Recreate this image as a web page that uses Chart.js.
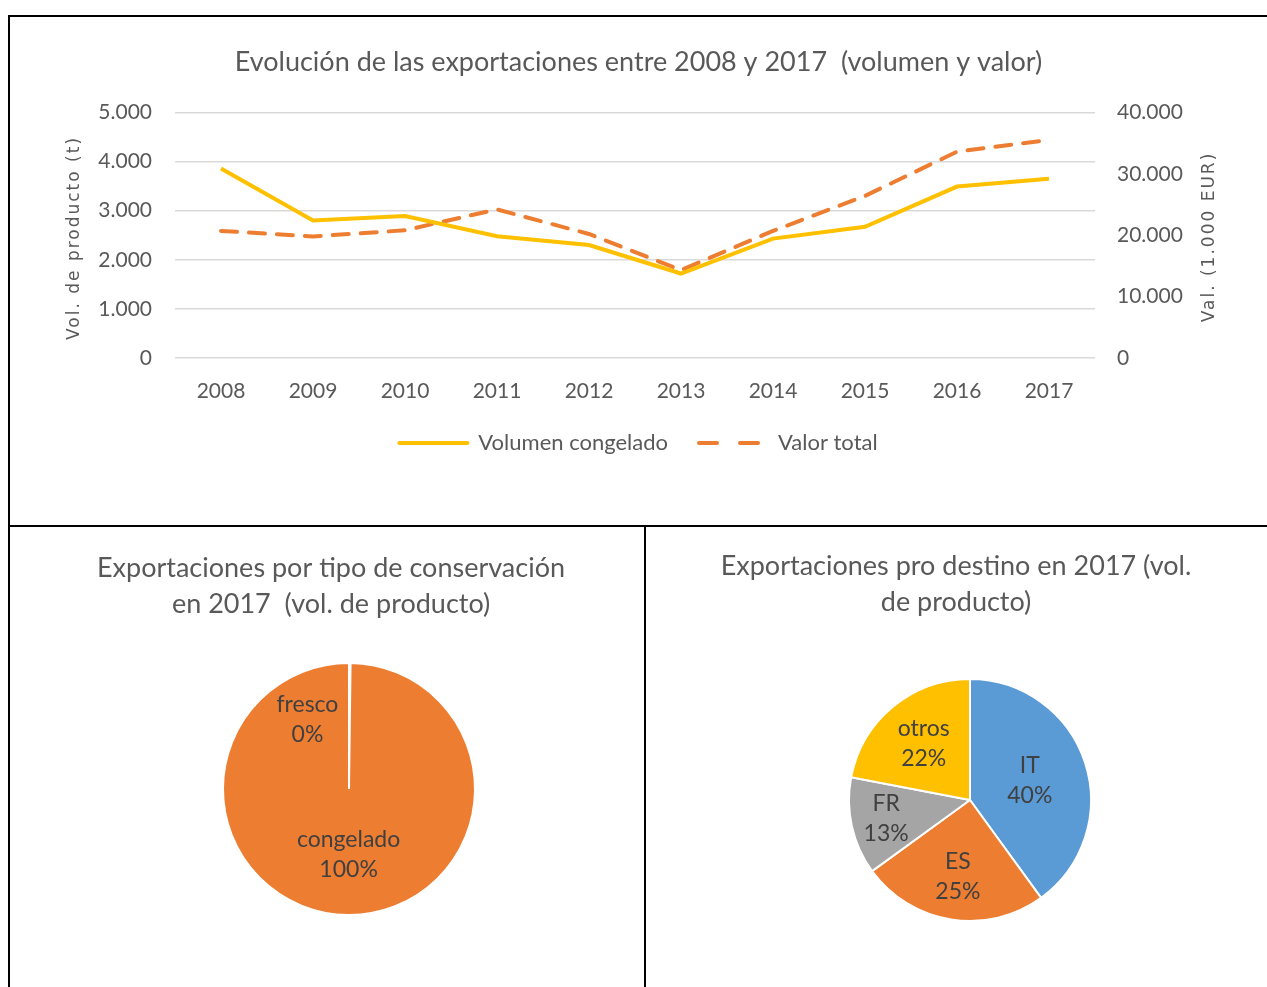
<!DOCTYPE html>
<html>
<head>
<meta charset="utf-8">
<script src="https://cdn.jsdelivr.net/npm/chart.js@4.4.1/dist/chart.umd.min.js"></script>
<style>
  html, body { margin: 0; padding: 0; background: #fff; overflow: hidden; }
  .box { position: absolute; border: 2px solid #000; box-sizing: border-box; }
  #boxTop { left: 8px; top: 15px; width: 1280px; height: 512px; }
  #boxLeft { left: 8px; top: 525px; width: 638px; height: 490px; }
  #boxRight { left: 644px; top: 525px; width: 650px; height: 490px; }
  canvas { position: absolute; }
</style>
</head>
<body>
<div class="box" id="boxTop"></div>
<div class="box" id="boxLeft"></div>
<div class="box" id="boxRight"></div>
<canvas id="lineChart" width="1257" height="506" style="left:10px;top:17px;"></canvas>
<canvas id="pieTipo" width="632" height="460" style="left:10px;top:527px;"></canvas>
<canvas id="pieDestino" width="621" height="460" style="left:646px;top:527px;"></canvas>
<script>
// years and series (volume in t, value in 1.000 EUR)
const years = ['2008', '2009', '2010', '2011', '2012', '2013', '2014', '2015', '2016', '2017'];
const volumenCongelado = [3860, 2800, 2890, 2480, 2300, 1720, 2430, 2670, 3490, 3650];
const valorTotal = [20700, 19800, 20800, 24200, 20200, 14300, 20700, 26400, 33600, 35500];

// pies (2017)
const tipoLabels = ['fresco', 'congelado'];
const tipoValues = [0.2, 99.8];
const destinoLabels = ['IT', 'ES', 'FR', 'otros'];
const destinoValues = [40, 25, 13, 22];

const grey = '#595959';
const excelFont = 'Lato, "Liberation Sans", sans-serif';
const thousands = v => v.toString().replace(/\B(?=(\d{3})+(?!\d))/g, '.');

// free text drawn on the canvas (titles, rotated axis titles)
const freeText = {
    id: 'freeText',
    afterDraw(chart, args, opts) {
        const ctx = chart.ctx;
        opts.items.forEach(item => {
            ctx.save();
            ctx.font = item.font;
            ctx.fillStyle = item.color || grey;
            ctx.textAlign = 'center';
            ctx.textBaseline = 'middle';
            if (item.spacing) ctx.letterSpacing = item.spacing;
            ctx.translate(item.x, item.y);
            if (item.rot) ctx.rotate(item.rot);
            ctx.fillText(item.text, 0, 0);
            ctx.restore();
        });
    }
};

// "label / xx%" inside pie slices
const pieLabels = {
    id: 'pieLabels',
    afterDatasetsDraw(chart, args, opts) {
        const ctx = chart.ctx;
        const meta = chart.getDatasetMeta(0);
        const data = chart.data.datasets[0].data;
        const total = data.reduce((a, b) => a + b, 0);
        ctx.save();
        ctx.font = opts.font;
        ctx.fillStyle = '#404040';
        ctx.textAlign = 'center';
        ctx.textBaseline = 'middle';
        meta.data.forEach((arc, i) => {
            let angle = (arc.startAngle + arc.endAngle) / 2;
            if (opts.angles && opts.angles[i] != null) angle = opts.angles[i] * Math.PI / 180 - Math.PI / 2;
            const r = arc.outerRadius * opts.radius[i];
            const x = arc.x + Math.cos(angle) * r;
            const y = arc.y + Math.sin(angle) * r;
            ctx.fillText(chart.data.labels[i], x, y - opts.gap / 2);
            ctx.fillText(Math.round(data[i] / total * 100) + '%', x, y + opts.gap / 2);
        });
        ctx.restore();
    }
};

const legendDash = [[], [18, 23]];

new Chart(document.getElementById('lineChart'), {
    type: 'line',
    data: {
        labels: years,
        datasets: [{
            label: 'Volumen congelado',
            data: volumenCongelado,
            borderColor: '#FFC000',
            backgroundColor: '#FFC000',
            borderWidth: 4,
            pointRadius: 0,
            tension: 0,
            yAxisID: 'y'
        }, {
            label: 'Valor total',
            data: valorTotal,
            borderColor: '#ED7D31',
            backgroundColor: '#ED7D31',
            borderWidth: 4,
            borderDash: [16, 12],
            borderCapStyle: 'round',
            pointRadius: 0,
            tension: 0,
            yAxisID: 'y2'
        }]
    },
    options: {
        responsive: false,
        animation: false,
        layout: { padding: { left: 0, right: 0, top: 0, bottom: 59 } },
        plugins: {
            title: {
                display: true,
                text: 'Evolución de las exportaciones entre 2008 y 2017  (volumen y valor)',
                color: grey,
                font: { family: excelFont, size: 27, weight: 'normal' },
                padding: { top: 29, bottom: 34 }
            },
            legend: {
                position: 'bottom',
                labels: {
                    color: grey,
                    font: { family: excelFont, size: 22 },
                    usePointStyle: true,
                    pointStyleWidth: 68,
                    padding: 31,
                    generateLabels: chart => chart.data.datasets.map((ds, i) => ({
                        text: ds.label,
                        fillStyle: ds.borderColor,
                        strokeStyle: ds.borderColor,
                        fontColor: grey,
                        lineWidth: 4,
                        lineDash: legendDash[i],
                        lineCap: 'round',
                        pointStyle: 'line',
                        hidden: false,
                        datasetIndex: i
                    }))
                }
            },
            tooltip: { enabled: false },
            freeText: {
                items: [{
                    text: 'Vol. de producto (t)', x: 65, y: 221, rot: -Math.PI / 2,
                    font: '17px "DejaVu Sans", sans-serif', spacing: '2px'
                }, {
                    text: 'Val. (1.000 EUR)', x: 1200, y: 220, rot: -Math.PI / 2,
                    font: '17px "DejaVu Sans", sans-serif', spacing: '2px'
                }]
            }
        },
        scales: {
            x: {
                offset: true,
                grid: { display: false, drawTicks: false },
                border: { display: false },
                ticks: { color: grey, font: { family: excelFont, size: 21 }, padding: 21 },
                afterFit: s => { s.height = 43; }
            },
            y: {
                position: 'left',
                min: 0, max: 5000,
                ticks: { stepSize: 1000, color: grey, font: { family: excelFont, size: 21 }, padding: 23, callback: thousands },
                grid: { color: '#D9D9D9', lineWidth: 1.5, drawTicks: false },
                border: { display: false },
                afterFit: s => { s.width = 165; }
            },
            y2: {
                position: 'right',
                min: 0, max: 40000,
                ticks: { stepSize: 10000, color: grey, font: { family: excelFont, size: 21 }, padding: 22, callback: thousands },
                grid: { drawOnChartArea: false, drawTicks: false },
                border: { display: false },
                afterFit: s => { s.width = 172; }
            }
        }
    },
    plugins: [freeText]
});

const titleFont = '27px ' + excelFont;
const labelFont = '23px ' + excelFont;

new Chart(document.getElementById('pieTipo'), {
    type: 'pie',
    data: {
        labels: tipoLabels,
        datasets: [{
            data: tipoValues,
            backgroundColor: ['#5B9BD5', '#ED7D31'],
            borderColor: '#fff',
            borderWidth: 2
        }]
    },
    options: {
        responsive: false,
        animation: false,
        layout: { padding: { left: 212, top: 135, right: 166, bottom: 71 } },
        plugins: {
            legend: { display: false },
            tooltip: { enabled: false },
            freeText: {
                items: [
                    { text: 'Exportaciones por tipo de conservación', x: 321, y: 41, font: titleFont },
                    { text: 'en 2017  (vol. de producto)', x: 321, y: 77, font: titleFont }
                ]
            },
            pieLabels: { font: labelFont, radius: [0.64, 0.52], angles: [-31, null], gap: 30 }
        }
    },
    plugins: [freeText, pieLabels]
});

new Chart(document.getElementById('pieDestino'), {
    type: 'pie',
    data: {
        labels: destinoLabels,
        datasets: [{
            data: destinoValues,
            backgroundColor: ['#5B9BD5', '#ED7D31', '#A5A5A5', '#FFC000'],
            borderColor: '#fff',
            borderWidth: 2
        }]
    },
    options: {
        responsive: false,
        animation: false,
        layout: { padding: { left: 202, top: 151, right: 175, bottom: 65 } },
        plugins: {
            legend: { display: false },
            tooltip: { enabled: false },
            freeText: {
                items: [
                    { text: 'Exportaciones pro destino en 2017 (vol.', x: 310, y: 39, font: titleFont },
                    { text: 'de producto)', x: 310, y: 75, font: titleFont }
                ]
            },
            pieLabels: { font: labelFont, radius: [0.52, 0.64, 0.71, 0.6], gap: 30 }
        }
    },
    plugins: [freeText, pieLabels]
});
</script>
</body>
</html>
